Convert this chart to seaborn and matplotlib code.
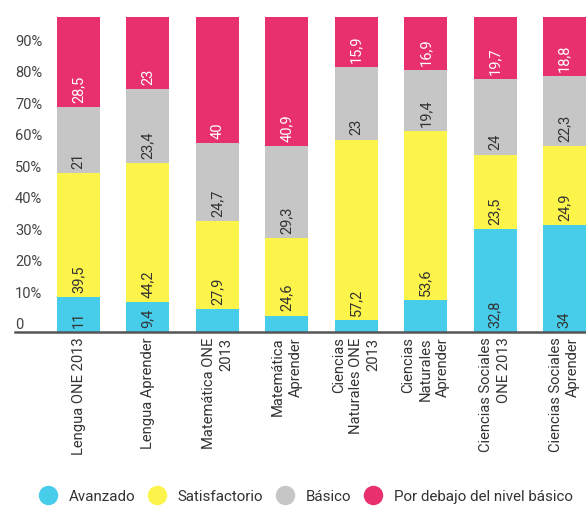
import matplotlib
matplotlib.use("Agg")
import matplotlib.pyplot as plt
from matplotlib.lines import Line2D
import numpy as np
import pandas as pd
import seaborn as sns

# Categories (tick labels) and percentages for each performance level
categories = [
    "Lengua ONE 2013",
    "Lengua Aprender",
    "Matemática ONE\n2013",
    "Matemática\nAprender",
    "Ciencias\nNaturales ONE\n2013",
    "Ciencias\nNaturales\nAprender",
    "Ciencias Sociales\nONE 2013",
    "Ciencias Sociales\nAprender",
]
avanzado = [11, 9.4, 7.4, 5.2, 3.9, 10.1, 32.8, 34]
satisfactorio = [39.5, 44.2, 27.9, 24.6, 57.2, 53.6, 23.5, 24.9]
basico = [21, 23.4, 24.7, 29.3, 23, 19.4, 24, 22.3]
debajo = [28.5, 23, 40, 40.9, 15.9, 16.9, 19.7, 18.8]

# Which segments carry a printed value (unlabelled ones are left blank)
avanzado_shown = [True, True, False, False, False, False, True, True]

level_names = ["Avanzado", "Satisfactorio", "Básico", "Por debajo del nivel básico"]
level_colors = ["#47CDEA", "#FDF44B", "#C6C6C6", "#E7306D"]
label_colors = ["#333333", "#333333", "#333333", "#FFFFFF"]

y_ticks = [0, 10, 20, 30, 40, 50, 60, 70, 80, 90]
y_tick_labels = ["0", "10%", "20%", "30%", "40%", "50%", "60%", "70%", "80%", "90%"]

sns.set_theme(style="white")
plt.rcParams["font.family"] = ["Roboto", "DejaVu Sans"]

levels = [avanzado, satisfactorio, basico, debajo]
df = pd.DataFrame({"categoria": categories})
for name, vals in zip(level_names, levels):
    df[name] = vals
cum = df[level_names].cumsum(axis=1)

fig = plt.figure(figsize=(5.86, 5.09), dpi=100)
ax = fig.add_axes([15 / 586, 1 - 332 / 509, 1 - 15 / 586, 332 / 509])

# Stacked bars: draw cumulative totals from the top level down
for k in range(len(level_names) - 1, -1, -1):
    sns.barplot(
        x=df["categoria"], y=cum[level_names[k]], order=categories,
        color=level_colors[k], saturation=1, width=0.62,
        linewidth=0, ax=ax, errorbar=None,
    )

# Value labels at the bottom of each segment
for i in range(len(categories)):
    bottom = 0.0
    for k, name in enumerate(level_names):
        val = df[name].iloc[i]
        show = avanzado_shown[i] if k == 0 else True
        if show:
            txt = f"{val:g}".replace(".", ",")
            ax.annotate(
                txt, xy=(i, bottom), xytext=(0, 3), textcoords="offset points",
                rotation=90, ha="center", va="bottom", fontsize=10.5,
                color=label_colors[k],
            )
        bottom += val

ax.set_xlim(-0.915, 7.31)
ax.set_ylim(0, 105.4)
ax.set_xlabel("")
ax.set_ylabel("")

ax.set_yticks(y_ticks)
ax.set_yticklabels(y_tick_labels, fontsize=10.5, color="#444444")
for lbl in ax.get_yticklabels():
    lbl.set_ha("left")
    lbl.set_va("bottom")
ax.tick_params(axis="y", length=0, pad=0)

ax.set_xticks(range(len(categories)))
ax.set_xticklabels(categories, rotation=90, fontsize=10.6, color="#333333",
                   ha="center", va="top", multialignment="right",
                   linespacing=1.3)
ax.tick_params(axis="x", length=0, pad=4)

for side in ["top", "right", "left"]:
    ax.spines[side].set_visible(False)
ax.spines["bottom"].set_color("#555555")
ax.spines["bottom"].set_linewidth(1.8)
ax.set_zorder(2)

handles = [
    Line2D([], [], marker="o", linestyle="", markersize=14,
           markerfacecolor=c, markeredgewidth=0)
    for c in level_colors
]
fig.legend(handles, level_names, loc="center", bbox_to_anchor=(0.522, 0.024),
           ncol=4, frameon=False, fontsize=10.9, handletextpad=0.75,
           columnspacing=0.85, handlelength=1.2, labelcolor="#333333")

fig.savefig("out.png", dpi=100)
